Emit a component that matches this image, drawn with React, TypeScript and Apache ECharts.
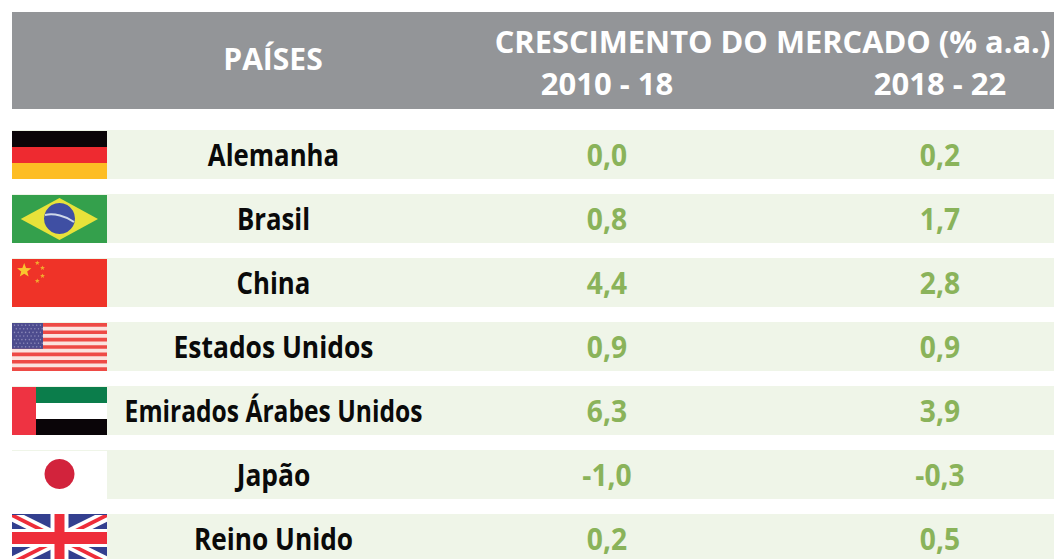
import React, { useEffect, useRef } from "react";
import * as echarts from "echarts";

const headerCountry = "PAÍSES";
const headerGroup = "CRESCIMENTO DO MERCADO (% a.a.)";
const periods = ["2010 - 18", "2018 - 22"];
const countries = ["Alemanha", "Brasil", "China", "Estados Unidos", "Emirados Árabes Unidos", "Japão", "Reino Unido"];
const growth2010to18 = [0.0, 0.8, 4.4, 0.9, 6.3, -1.0, 0.2];
const growth2018to22 = [0.2, 1.7, 2.8, 0.9, 3.9, -0.3, 0.5];
const nameScales = [0.86, 0.86, 0.86, 0.88, 0.82, 0.88, 0.875];

const W = 1054;
const H = 559;
const PITCH = 64;
const GRID_TOP = 122.5;
const CHART_H = 600;
const BAND_H = 49;
const FLAG_X = 12;
const FLAG_W = 95;
const NAME_X = 273;
const COL1_X = 607;
const COL2_X = 940;
const FONT = '"Open Sans", sans-serif';

const fmt = (v: number) => v.toFixed(1).replace(".", ",");

const rect = (x: number, y: number, w: number, h: number, fill: string) => ({
  type: "rect",
  shape: { x, y, width: w, height: h },
  style: { fill },
});
const poly = (points: number[][], fill: string) => ({ type: "polygon", shape: { points }, style: { fill } });
const circle = (cx: number, cy: number, r: number, fill: string) => ({ type: "circle", shape: { cx, cy, r }, style: { fill } });

const star = (cx: number, cy: number, r: number, fill: string) => {
  const pts: number[][] = [];
  for (let i = 0; i < 10; i++) {
    const a = -Math.PI / 2 + (i * Math.PI) / 5;
    const rr = i % 2 === 0 ? r : r * 0.42;
    pts.push([cx + rr * Math.cos(a), cy + rr * Math.sin(a)]);
  }
  return poly(pts, fill);
};

// Draws each flag in a local box 95 wide and 48 high
function flag(i: number): any[] {
  const w = FLAG_W;
  const h = 48;
  switch (i) {
    case 0:
      return [rect(0, 0, w, 16, "#0a0508"), rect(0, 16, w, 16, "#ee2a30"), rect(0, 32, w, 16, "#fdbd24")];
    case 1:
      return [
        rect(0, 0, w, h, "#34a04c"),
        poly([[8.7, 24], [47.5, 3], [86, 24], [47.5, 45]], "#e8e23a"),
        circle(47.5, 23.5, 15.5, "#3f4fa3"),
        {
          type: "bezierCurve",
          shape: { x1: 33, y1: 20, x2: 62, y2: 27, cpx1: 42, cpy1: 18, cpx2: 54, cpy2: 21 },
          style: { stroke: "#cfd8ea", lineWidth: 2, fill: "none" },
        },
      ];
    case 2:
      return [
        rect(0, 0, w, h, "#ef3328"),
        star(12.2, 11.5, 7.5, "#f9c62e"),
        star(25.3, 4, 2.6, "#f2a92e"),
        star(30.5, 9, 2.6, "#f2a92e"),
        star(30.5, 17, 2.6, "#f2a92e"),
        star(25.3, 22, 2.6, "#f2a92e"),
      ];
    case 3: {
      const items: any[] = [rect(0, 0, w, h, "#fbe3de")];
      const s = h / 13;
      for (let k = 0; k < 13; k += 2) items.push(rect(0, k * s, w, s, "#ee4a45"));
      items.push(rect(0, 0, 31, s * 7, "#4d4c8e"));
      for (let r = 0; r < 7; r++) {
        for (let c = 0; c < 8; c++) {
          items.push(circle(2.5 + c * 3.7 + (r % 2) * 1.8, 2.2 + r * 3.6, 0.7, "#8f8dbb"));
        }
      }
      return items;
    }
    case 4:
      return [
        rect(24, 0, w - 24, 16, "#0b7d4b"),
        rect(24, 16, w - 24, 16, "#ffffff"),
        rect(24, 32, w - 24, 16, "#0a0508"),
        rect(0, 0, 24, h, "#ee3342"),
      ];
    case 5:
      return [rect(0, 0, w, h, "#ffffff"), rect(12, 0, 72, h + 1, "#ffffff"), circle(47.5, 23, 15, "#d2233c")];
    default: {
      const d = 12;
      const e = d * (h / w) * 1.1;
      const t = 4;
      const f = t * (h / w) * 1.1;
      const diag = (a: number, b: number, fill: string) => [
        poly([[0, 0], [a, 0], [w, h - b], [w, h], [w - a, h], [0, b]], fill),
        poly([[w, 0], [w - a, 0], [0, h - b], [0, h], [a, h], [w, b]], fill),
      ];
      return [
        rect(0, -1, w, h + 1, "#333f8f"),
        ...diag(d, e, "#ffffff"),
        ...diag(t, f, "#ee2d3a"),
        rect(w / 2 - 9, -1, 18, h + 1, "#ffffff"),
        rect(0, h / 2 - 10, w, 18, "#ffffff"),
        rect(w / 2 - 5, -1, 10, h + 1, "#ee2d3a"),
        rect(0, h / 2 - 7, w, 12, "#ee2d3a"),
      ];
    }
  }
}

const cellText = (text: string, x: number, y: number, fill: string, scaleX: number) => ({
  type: "text",
  x,
  y,
  scaleX,
  style: { text, x: 0, y: 0, align: "center", verticalAlign: "middle", fill, fontFamily: FONT, fontSize: 30, fontWeight: 700 },
});

function renderRow(_: any, api: any) {
  const i = api.value(0);
  const yc = api.coord([0, i])[1];
  const top = yc - BAND_H / 2;
  return {
    type: "group",
    children: [
      rect(FLAG_X, top, W - FLAG_X, BAND_H, "#eff5e8"),
      { type: "group", x: FLAG_X, y: top + 1, children: flag(i) },
      cellText(countries[i], NAME_X + 0.5, yc, "#0a0a0a", nameScales[i]),
      cellText(fmt(api.value(1)), COL1_X, yc, "#8ab35a", 0.94),
      cellText(fmt(api.value(2)), COL2_X, yc, "#8ab35a", 0.94),
    ],
  };
}

const headerText = (text: string, x: number, y: number, scaleX: number) => ({
  type: "text",
  x,
  y,
  scaleX,
  style: { text, x: 0, y: 0, align: "center", verticalAlign: "middle", fill: "#ffffff", fontFamily: FONT, fontSize: 31, fontWeight: 700 },
});

export default function App() {
  const ref = useRef<HTMLDivElement>(null);
  useEffect(() => {
    const chart = echarts.init(ref.current!, undefined, { renderer: "svg" });
    chart.setOption({
      animation: false,
      backgroundColor: "#ffffff",
      grid: { left: 0, top: GRID_TOP, width: W, height: PITCH * countries.length },
      xAxis: { type: "value", min: 0, max: W, show: false },
      yAxis: { type: "category", inverse: true, data: countries, show: false },
      graphic: [
        { type: "rect", shape: { x: FLAG_X, y: 12, width: W - FLAG_X, height: 97 }, style: { fill: "#939598" } },
        headerText(headerCountry, NAME_X, 58, 0.97),
        headerText(headerGroup, 772.5, 41, 0.995),
        headerText(periods[0], COL1_X, 83, 1),
        headerText(periods[1], COL2_X, 83, 1),
      ],
      series: [
        {
          type: "custom",
          clip: false,
          silent: true,
          renderItem: renderRow,
          encode: { y: 0 },
          data: countries.map((_, i) => [i, growth2010to18[i], growth2018to22[i]]),
        },
      ],
    });
    return () => chart.dispose();
  }, []);
  return (
    <div style={{ position: "fixed", left: 0, top: 0, width: W, height: H, overflow: "hidden" }}>
      <div ref={ref} style={{ width: W, height: CHART_H }} />
    </div>
  );
}
